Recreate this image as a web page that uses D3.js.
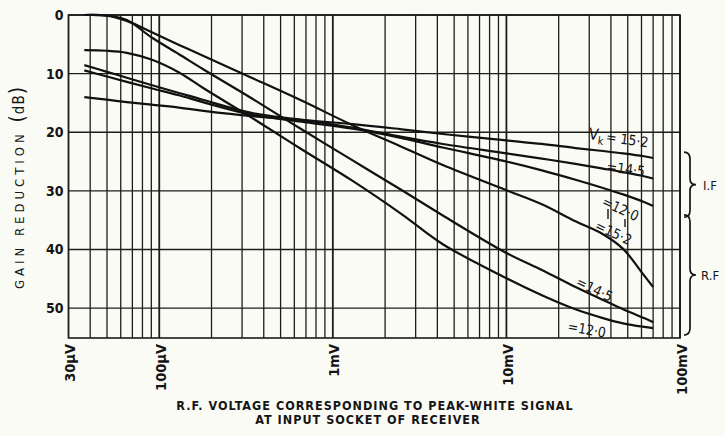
<!DOCTYPE html>
<html>
<head>
<meta charset="utf-8">
<script src="https://cdn.jsdelivr.net/npm/d3@7"></script>
<style>
  body { margin: 0; background: #fbfbf6; }
  svg { display: block; }
  text { font-family: "DejaVu Sans Condensed", "DejaVu Sans", sans-serif; fill: #151515; }
</style>
</head>
<body>
<svg width="725" height="436"></svg>
<script>
'use strict';

// the data! voltage in microvolts, gain reduction in dB
var voltsUV = [37, 50, 65, 90, 130, 180, 340, 660, 1300, 2500, 4300, 10000, 16000, 25000, 36000, 47000, 62000, 70000];

var if152 = [14.0, 14.45, 14.85, 15.3, 15.8, 16.35, 17.25, 17.9, 18.6, 19.5, 20.3, 21.4, 22.0, 22.7, 23.2, 23.6, 24.1, 24.4];
var if145 = [8.55, 9.7, 10.7, 11.95, 13.3, 14.5, 16.7, 17.9, 19.2, 20.8, 22.0, 23.6, 24.5, 25.4, 26.2, 26.8, 27.5, 27.9];
var if120 = [9.45, 10.5, 11.4, 12.5, 13.7, 14.9, 17.0, 18.2, 19.4, 21.0, 22.6, 25.0, 26.5, 28.1, 29.5, 30.6, 31.9, 32.6];
var rf152 = [0, 0.1, 1.0, 2.9, 5.1, 7.0, 10.7, 14.6, 18.8, 22.5, 25.6, 29.9, 32.3, 35.2, 37.4, 39.9, 44.4, 46.4];
var rf145 = [0, 0.1, 0.85, 3.8, 6.7, 9.3, 14.2, 19.5, 24.8, 29.9, 34.2, 40.6, 43.5, 46.4, 48.6, 50.2, 51.7, 52.4];
var rf120 = [6.0, 6.1, 6.45, 7.6, 9.8, 12.5, 17.5, 22.9, 28.3, 34.0, 39.1, 44.9, 47.8, 50.2, 51.7, 52.6, 53.2, 53.4];

var yTicks = [0, 10, 20, 30, 40, 50];
var xTickVals = [30e-6, 100e-6, 1e-3, 10e-3, 100e-3];
var xTickLabels = ['30\u00b5V', '100\u00b5V', '1mV', '10mV', '100mV'];

var ifRange = [23.4, 34.5]; // bracket for I.F. curves
var rfRange = [34.1, 54.6]; // bracket for R.F. curves

var svg = d3.select('svg');

var x = d3.scaleLog().domain([30e-6, 0.1]).range([68.5, 680]);
var y = d3.scaleLinear().domain([0, 55.1]).range([15, 338]);

// grid: every 1..9 in each decade
var grid = svg.append('g');
grid.selectAll('line.v').data(x.ticks()).enter().append('line')
  .attr('x1', function(d){ return x(d); }).attr('x2', function(d){ return x(d); })
  .attr('y1', y(0)).attr('y2', y(55.1))
  .attr('stroke', '#1c1c1c')
  .attr('stroke-width', function(d){
    var l = Math.log10(d);
    return Math.abs(l - Math.round(l)) < 1e-6 ? 1.8 : 1.3;
  });
grid.selectAll('line.h').data(yTicks).enter().append('line')
  .attr('x1', x(30e-6)).attr('x2', x(0.1))
  .attr('y1', function(d){ return y(d); }).attr('y2', function(d){ return y(d); })
  .attr('stroke', '#1c1c1c').attr('stroke-width', 1.4);

// frame
svg.append('rect')
  .attr('x', x(30e-6)).attr('y', y(0))
  .attr('width', x(0.1) - x(30e-6)).attr('height', y(55.1) - y(0))
  .attr('fill', 'none').attr('stroke', '#1c1c1c').attr('stroke-width', 1.6);

// y axis labels
var yAxis = d3.axisLeft(y).tickValues(yTicks).tickSize(0).tickPadding(5);
var gy = svg.append('g').attr('transform', 'translate(' + x(30e-6) + ',0)').call(yAxis);
gy.select('.domain').remove();
gy.selectAll('text').attr('font-size', 14).attr('font-weight', 'bold')
  .style('font-family', '"DejaVu Sans Condensed", "DejaVu Sans", sans-serif').attr('fill', '#151515');

// x axis labels, rotated
var xAxis = d3.axisBottom(x).tickValues(xTickVals).tickSize(0)
  .tickFormat(function(d, i){ return xTickLabels[i]; });
var gx = svg.append('g').attr('transform', 'translate(0,' + y(55.1) + ')').call(xAxis);
gx.select('.domain').remove();
gx.selectAll('text')
  .attr('transform', 'rotate(-90)')
  .attr('text-anchor', 'end')
  .attr('x', -6).attr('y', 1).attr('dy', '0.35em')
  .attr('font-size', 14.5).attr('font-weight', 'bold')
  .style('font-family', '"DejaVu Sans Condensed", "DejaVu Sans", sans-serif').attr('fill', '#151515');

// curves
var curves = [if152, if145, if120, rf152, rf145, rf120];
var line = d3.line()
  .x(function(d, i){ return x(voltsUV[i] * 1e-6); })
  .y(function(d){ return y(d); })
  .curve(d3.curveCatmullRom.alpha(0.5));

svg.append('g').selectAll('path').data(curves).enter().append('path')
  .attr('d', line)
  .attr('fill', 'none').attr('stroke', '#111').attr('stroke-width', 2.2);

// curve labels
var lab = svg.append('g').attr('font-size', 14);
var vk = lab.append('text').attr('transform', 'translate(588,139) rotate(8)');
vk.append('tspan').attr('font-size', 16).text('V');
vk.append('tspan').attr('font-size', 11).attr('dy', 4).text('k');
vk.append('tspan').attr('dy', -4).attr('dx', 2).text('= 15\u00b72');
lab.append('text').attr('transform', 'translate(606,171) rotate(8)').text('=14\u00b75');
lab.append('text').attr('transform', 'translate(601,205) rotate(25)').text('=12\u00b70');
lab.append('text').attr('transform', 'translate(594,229) rotate(25)').text('=15\u00b72');
lab.append('text').attr('transform', 'translate(575,285) rotate(26)').text('=14\u00b75');
lab.append('text').attr('transform', 'translate(567,331) rotate(10)').text('=12\u00b70');
// little pointer strokes between the two 12.0 / 15.2 labels
lab.append('path').attr('d', 'M608,209 L608,219 M625,219 L625,227')
  .attr('stroke', '#151515').attr('stroke-width', 1.4);

// braces
function brace(r){
  var y0 = y(r[0]), y1 = y(r[1]), m = (y0 + y1) / 2;
  return 'M684,' + y0 + ' Q690,' + y0 + ' 690,' + (y0 + 7) +
    ' L690,' + (m - 6) + ' Q690,' + m + ' 696,' + m +
    ' Q690,' + m + ' 690,' + (m + 6) +
    ' L690,' + (y1 - 7) + ' Q690,' + y1 + ' 684,' + y1;
}
svg.append('path').attr('d', brace(ifRange)).attr('fill', 'none').attr('stroke', '#151515').attr('stroke-width', 1.7);
svg.append('path').attr('d', brace(rfRange)).attr('fill', 'none').attr('stroke', '#151515').attr('stroke-width', 1.7);
svg.append('text').attr('x', 703).attr('y', (y(ifRange[0]) + y(ifRange[1])) / 2 + 5).attr('font-size', 13).text('I.F');
svg.append('text').attr('x', 701).attr('y', (y(rfRange[0]) + y(rfRange[1])) / 2 + 5).attr('font-size', 13).text('R.F');

// axis titles
var yt = svg.append('text').attr('transform', 'translate(24,188) rotate(-90)')
  .attr('text-anchor', 'middle').attr('font-size', 13).attr('letter-spacing', 4);
yt.append('tspan').text('GAIN REDUCTION ');
yt.append('tspan').attr('font-size', 21).attr('letter-spacing', 1).text('(');
yt.append('tspan').attr('font-size', 15).attr('letter-spacing', 1).text('dB');
yt.append('tspan').attr('font-size', 21).attr('letter-spacing', 0).text(')');

svg.append('text').attr('x', 375).attr('y', 410).attr('text-anchor', 'middle')
  .attr('font-size', 12.5).attr('font-weight', 'bold').attr('letter-spacing', 1)
  .text('R.F. VOLTAGE CORRESPONDING TO PEAK-WHITE SIGNAL');
svg.append('text').attr('x', 368).attr('y', 424).attr('text-anchor', 'middle')
  .attr('font-size', 12.5).attr('font-weight', 'bold').attr('letter-spacing', 1)
  .text('AT INPUT SOCKET OF RECEIVER');
</script>
</body>
</html>
